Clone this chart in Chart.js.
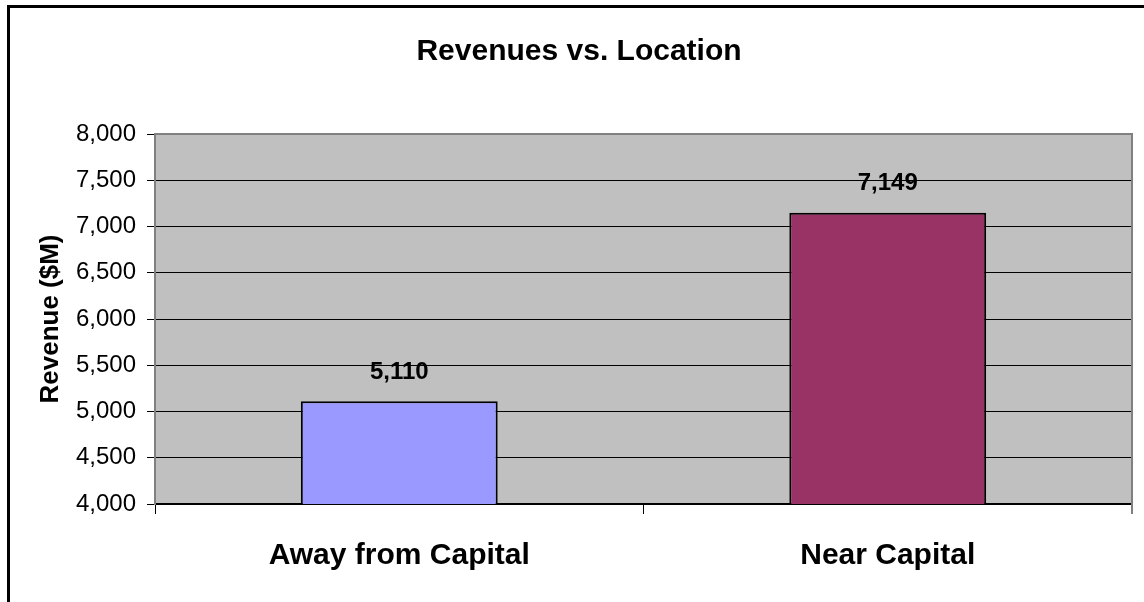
<!DOCTYPE html>
<html>
<head>
<meta charset="utf-8">
<script src="https://cdn.jsdelivr.net/npm/chart.js@4"></script>
<style>
  html, body { margin: 0; padding: 0; background: #fff; }
  #wrap { width: 1144px; height: 602px; position: relative; }
</style>
</head>
<body>
<div id="wrap"><canvas id="c" width="1144" height="602"></canvas></div>
<script>
const categories = ["Away from Capital", "Near Capital"];
const revenues = [5110, 7149];
const barColors = ["#9999FF", "#993366"];
const yMin = 4000, yMax = 8000, yStep = 500;
const titleText = "Revenues vs. Location";
const yTitleText = "Revenue ($M)";

const FONT = "'Liberation Sans', Arial, sans-serif";
const fmt = v => v.toLocaleString('en-US');

const framePlugin = {
  id: 'frame',
  beforeDraw(chart) {
    const ctx = chart.ctx, a = chart.chartArea;
    ctx.save();
    ctx.fillStyle = '#fff';
    ctx.fillRect(0, 0, chart.width, chart.height);
    ctx.strokeStyle = '#000';
    ctx.lineWidth = 3;
    ctx.beginPath();
    ctx.moveTo(8.5, chart.height + 5);
    ctx.lineTo(8.5, 6.5);
    ctx.lineTo(chart.width + 5, 6.5);
    ctx.stroke();
    ctx.fillStyle = '#C0C0C0';
    ctx.fillRect(a.left, a.top, a.right - a.left, a.bottom - a.top);
    ctx.restore();
  },
  afterDraw(chart) {
    const ctx = chart.ctx, a = chart.chartArea;
    ctx.save();
    ctx.strokeStyle = '#808080';
    ctx.lineWidth = 2;
    ctx.beginPath();
    ctx.moveTo(a.left, a.top);
    ctx.lineTo(a.right, a.top);
    ctx.lineTo(a.right, a.bottom + 10);
    ctx.stroke();
    ctx.restore();
  },
  afterDatasetsDraw(chart) {
    const ctx = chart.ctx;
    const meta = chart.getDatasetMeta(0);
    ctx.save();
    ctx.font = "bold 24px " + FONT;
    ctx.fillStyle = '#000';
    ctx.textAlign = 'center';
    ctx.textBaseline = 'middle';
    meta.data.forEach((bar, i) => {
      ctx.fillText(fmt(revenues[i]), bar.x, bar.y - 29);
    });
    ctx.restore();
  }
};

new Chart(document.getElementById('c'), {
  type: 'bar',
  data: {
    labels: categories,
    datasets: [{
      data: revenues,
      backgroundColor: barColors,
      borderColor: '#000',
      borderWidth: 2,
      borderSkipped: false,
      categoryPercentage: 0.403,
      barPercentage: 1.0
    }]
  },
  options: {
    responsive: false,
    animation: false,
    layout: { padding: { left: 26, right: 12, top: 0, bottom: 0 } },
    plugins: {
      legend: { display: false },
      tooltip: { enabled: false },
      title: {
        display: true,
        text: titleText,
        color: '#000',
        font: { family: FONT, size: 30, weight: 'bold' },
        padding: { top: 34, bottom: 64 }
      }
    },
    scales: {
      x: {
        grid: {
          display: true,
          offset: true,
          drawOnChartArea: false,
          drawTicks: true,
          tickLength: 10,
          color: '#000'
        },
        border: { display: true, color: '#000', width: 2 },
        ticks: {
          color: '#000',
          font: { family: FONT, size: 30, weight: 'bold' },
          padding: 24
        },
        afterFit(s) { s.height = 98; }
      },
      y: {
        min: yMin,
        max: yMax,
        ticks: {
          stepSize: yStep,
          color: '#000',
          font: { family: FONT, size: 24 },
          padding: 11,
          callback: v => fmt(v)
        },
        grid: {
          color: '#000',
          lineWidth: 1,
          tickLength: 8,
          drawTicks: true
        },
        border: { display: true, color: '#808080', width: 2 },
        title: {
          display: true,
          text: yTitleText,
          color: '#000',
          font: { family: FONT, size: 26, weight: 'bold' },
          padding: { top: 9, bottom: 4 }
        },
        afterFit(s) { s.width = 129; }
      }
    }
  },
  plugins: [framePlugin]
});
</script>
</body>
</html>
